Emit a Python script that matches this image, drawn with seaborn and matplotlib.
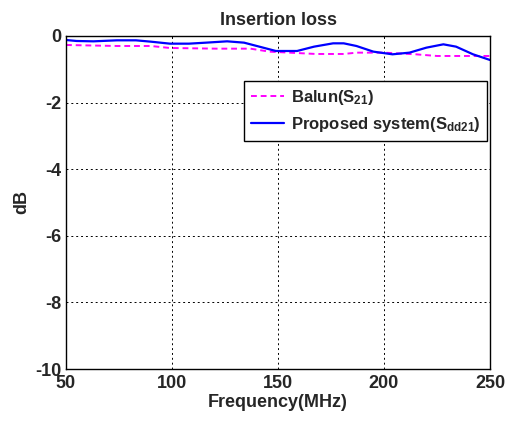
import matplotlib
matplotlib.use("Agg")
import matplotlib.pyplot as plt
import seaborn as sns
import pandas as pd

sns.set_style("white")
plt.rcParams['font.family'] = ['Liberation Sans', 'DejaVu Sans']
plt.rcParams['font.weight'] = 'bold'
plt.rcParams['mathtext.fontset'] = 'custom'
plt.rcParams['mathtext.bf'] = 'Liberation Sans:bold'
plt.rcParams['mathtext.rm'] = 'Liberation Sans:bold'
plt.rcParams['mathtext.default'] = 'bf'

blue_f = [50, 55, 63, 74, 83, 90, 99, 108, 116, 126, 134, 140, 149, 159, 167, 176, 181, 187, 195, 204, 212, 220, 228, 234, 242, 250]
blue_db = [-0.12, -0.15, -0.16, -0.13, -0.13, -0.17, -0.23, -0.23, -0.20, -0.16, -0.20, -0.30, -0.45, -0.45, -0.32, -0.22, -0.22, -0.30, -0.47, -0.55, -0.50, -0.35, -0.25, -0.32, -0.55, -0.72]
pink_f = [50, 74, 90, 99, 121, 137, 146, 168, 181, 187, 200, 215, 225, 250]
pink_db = [-0.27, -0.30, -0.30, -0.36, -0.38, -0.38, -0.47, -0.54, -0.54, -0.50, -0.50, -0.55, -0.60, -0.60]

xticks = [50, 100, 150, 200, 250]
yticks = [0, -2, -4, -6, -8, -10]

df_pink = pd.DataFrame({"f": pink_f, "dB": pink_db})
df_blue = pd.DataFrame({"f": blue_f, "dB": blue_db})

fig = plt.figure(figsize=(5.10, 4.21), dpi=100)
ax = fig.add_axes([66/510, 1 - 369/421, (490-66)/510, (369-36)/421])

sns.lineplot(data=df_pink, x="f", y="dB", ax=ax, color="#ff00ff", linestyle=(0, (3, 2)), linewidth=1.4,
             label=r"Balun(S$_{21}$)")
sns.lineplot(data=df_blue, x="f", y="dB", ax=ax, color="#0000ff", linewidth=1.6,
             label=r"Proposed system(S$_{dd21}$)")

ax.set_xlim(50, 250)
ax.set_ylim(-10, 0)
ax.set_xticks(xticks)
ax.set_yticks(yticks)
ax.set_xticklabels([str(t) for t in xticks], fontsize=13, fontweight='bold')
ax.set_yticklabels([str(t) for t in yticks], fontsize=13, fontweight='bold')
ax.tick_params(axis='x', direction='in', length=4, width=0.8, color='black', pad=4)
ax.tick_params(axis='y', direction='in', length=4, width=0.8, color='black', pad=3)
ax.grid(True, color='black', linestyle=(0, (2, 3)), linewidth=0.7)
for s in ax.spines.values():
    s.set_color('black')
    s.set_linewidth(1.0)
ax.set_xlabel("Frequency(MHz)", fontsize=13, fontweight='bold', labelpad=2)
ax.set_ylabel("dB", fontsize=13, fontweight='bold', labelpad=4)
ax.set_title("Insertion loss", fontsize=13, fontweight='bold', pad=8)

leg = ax.legend(loc='upper right', bbox_to_anchor=((487-66)/424, 1 - (81-36)/333),
                fontsize=12, frameon=True, fancybox=False, edgecolor='black',
                handlelength=2.0, borderpad=0.4, labelspacing=0.5, handletextpad=0.4,
                borderaxespad=0)
leg.get_frame().set_linewidth(1.0)
leg.get_frame().set_alpha(1)

fig.savefig("out.png", dpi=100, facecolor='white')
